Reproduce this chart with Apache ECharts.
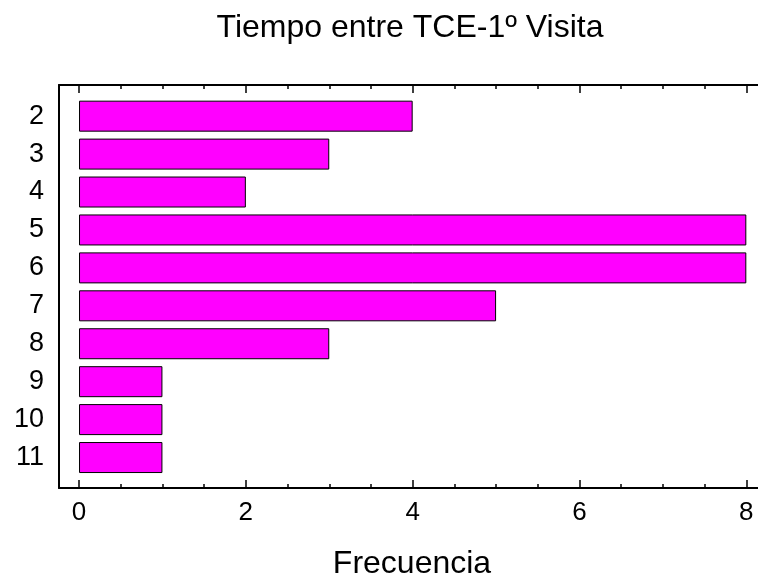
<!DOCTYPE html>
<html>
<head>
<meta charset="utf-8">
<script src="https://cdn.jsdelivr.net/npm/echarts@6/dist/echarts.min.js"></script>
<style>
html,body{margin:0;padding:0;background:#fff;}
#chart{width:758px;height:579px;}
</style>
</head>
<body>
<div id="chart"></div>
<script>
const titleText = 'Tiempo entre TCE-1º Visita';
const xAxisTitle = 'Frecuencia';
const categories = ['2', '3', '4', '5', '6', '7', '8', '9', '10', '11'];
const frequencies = [4, 3, 2, 8, 8, 5, 3, 1, 1, 1];
const xMajorTicks = [0, 2, 4, 6, 8];
const xMinorTicks = [0.5, 1, 1.5, 2.5, 3, 3.5, 4.5, 5, 5.5, 6.5, 7, 7.5];

const X_MIN = -0.24, X_MAX = 8.14;
const FONT = '"Liberation Sans", Arial, sans-serif';
const chart = echarts.init(document.getElementById('chart'), null, {renderer: 'canvas'});

const frameGrid = {left: 59, right: 0, top: 85, bottom: 91};
const baseX = {type: 'value', min: X_MIN, max: X_MAX, splitLine: {show: false}};

const option = {
  animation: false,
  backgroundColor: '#ffffff',
  graphic: [
    {type: 'text', x: 410, y: 28, style: {text: titleText, font: '32px ' + FONT, fill: '#000', textAlign: 'center', textVerticalAlign: 'middle'}},
    {type: 'text', x: 412, y: 564, style: {text: xAxisTitle, font: '32px ' + FONT, fill: '#000', textAlign: 'center', textVerticalAlign: 'middle'}}
  ],
  grid: [
    Object.assign({}, frameGrid),
    {left: 59, right: 0, top: 97.2, bottom: 102.5},
    Object.assign({}, frameGrid)
  ],
  xAxis: [
    Object.assign({}, baseX, {
      gridIndex: 0, position: 'bottom',
      axisLine: {show: true, onZero: false, lineStyle: {color: '#000', width: 2}},
      axisTick: {show: true, inside: true, length: 8, customValues: xMajorTicks, lineStyle: {color: '#000', width: 1.5}},
      axisLabel: {show: true, customValues: xMajorTicks, margin: 12, color: '#000', fontSize: 26, fontFamily: FONT}
    }),
    Object.assign({}, baseX, {
      gridIndex: 0, position: 'top',
      axisLine: {show: true, onZero: false, lineStyle: {color: '#000', width: 2}},
      axisTick: {show: true, inside: true, length: 8, customValues: xMajorTicks, lineStyle: {color: '#000', width: 1.5}},
      axisLabel: {show: false}
    }),
    Object.assign({}, baseX, {
      gridIndex: 1, show: false
    }),
    Object.assign({}, baseX, {
      gridIndex: 2, position: 'bottom',
      axisLine: {show: false, onZero: false},
      axisTick: {show: true, inside: true, length: 4, customValues: xMinorTicks, lineStyle: {color: '#000', width: 1.5}},
      axisLabel: {show: false}
    }),
    Object.assign({}, baseX, {
      gridIndex: 2, position: 'top',
      axisLine: {show: false, onZero: false},
      axisTick: {show: true, inside: true, length: 4, customValues: xMinorTicks, lineStyle: {color: '#000', width: 1.5}},
      axisLabel: {show: false}
    })
  ],
  yAxis: [
    {
      gridIndex: 0, type: 'value', min: 0, max: 1,
      axisLine: {show: true, onZero: false, lineStyle: {color: '#000', width: 2}},
      axisTick: {show: false}, axisLabel: {show: false}, splitLine: {show: false}
    },
    {
      gridIndex: 1, type: 'category', data: categories, inverse: true,
      axisLine: {show: false}, axisTick: {show: false}, splitLine: {show: false},
      axisLabel: {show: true, margin: 15, color: '#000', fontSize: 27, fontFamily: FONT}
    },
    {
      gridIndex: 2, type: 'value', min: 0, max: 1, show: false
    }
  ],
  series: [
    {
      type: 'bar', xAxisIndex: 2, yAxisIndex: 1,
      data: frequencies,
      barWidth: 31,
      itemStyle: {color: '#ff00ff', borderColor: '#000', borderWidth: 1}
    }
  ]
};
chart.setOption(option);
</script>
</body>
</html>
